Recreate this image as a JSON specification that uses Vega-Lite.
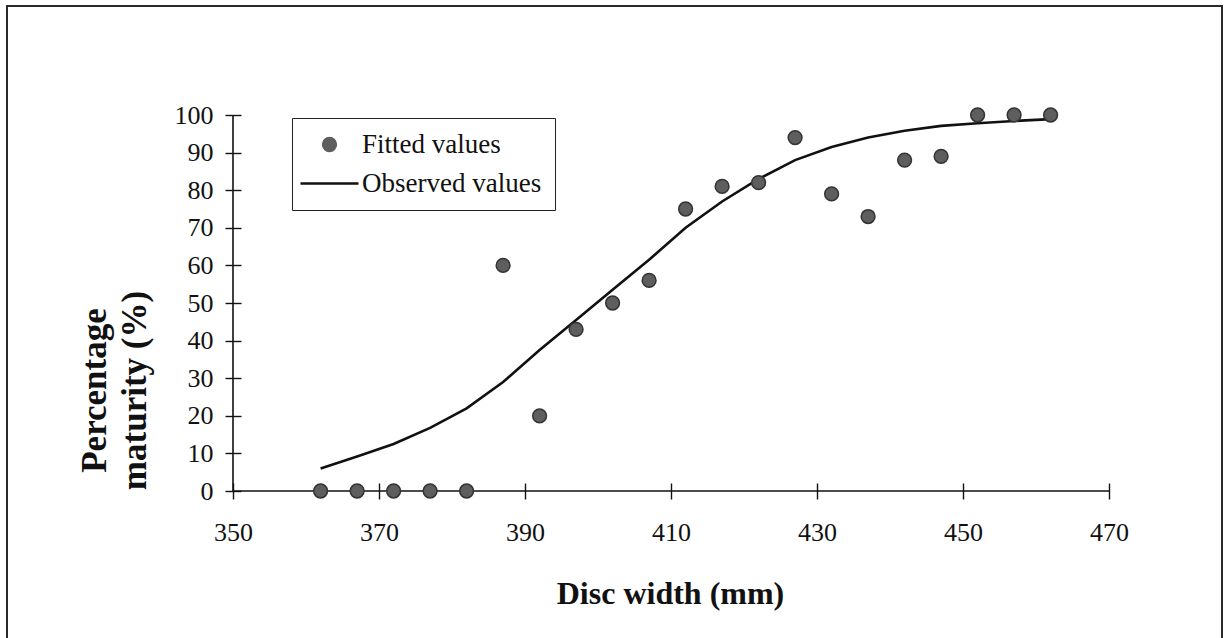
{
  "$schema": "https://vega.github.io/schema/vega-lite/v6.json",
  "width": 1215,
  "height": 640,
  "autosize": {"type": "none"},
  "padding": {"left": 7, "top": 6, "right": 6, "bottom": 0},
  "background": "white",
  "config": {
    "view": {"stroke": "#2a2a2a", "strokeWidth": 2},
    "font": "Liberation Serif"
  },
  "datasets": {
    "fitted": [
      {"width": 362, "pct": 0}, {"width": 367, "pct": 0}, {"width": 372, "pct": 0},
      {"width": 377, "pct": 0}, {"width": 382, "pct": 0}, {"width": 387, "pct": 60},
      {"width": 392, "pct": 20}, {"width": 397, "pct": 43}, {"width": 402, "pct": 50},
      {"width": 407, "pct": 56}, {"width": 412, "pct": 75}, {"width": 417, "pct": 81},
      {"width": 422, "pct": 82}, {"width": 427, "pct": 94}, {"width": 432, "pct": 79},
      {"width": 437, "pct": 73}, {"width": 442, "pct": 88}, {"width": 447, "pct": 89},
      {"width": 452, "pct": 100}, {"width": 457, "pct": 100}, {"width": 462, "pct": 100}
    ],
    "observed": [
      {"width": 362, "pct": 6.0}, {"width": 367, "pct": 9.2}, {"width": 372, "pct": 12.5},
      {"width": 377, "pct": 16.8}, {"width": 382, "pct": 22.0}, {"width": 387, "pct": 29.0},
      {"width": 392, "pct": 37.5}, {"width": 397, "pct": 45.5}, {"width": 402, "pct": 53.5},
      {"width": 407, "pct": 61.5}, {"width": 412, "pct": 70.0}, {"width": 417, "pct": 77.0},
      {"width": 422, "pct": 83.0}, {"width": 427, "pct": 88.0}, {"width": 432, "pct": 91.5},
      {"width": 437, "pct": 94.0}, {"width": 442, "pct": 95.8}, {"width": 447, "pct": 97.1},
      {"width": 452, "pct": 97.8}, {"width": 457, "pct": 98.4}, {"width": 462, "pct": 98.9}
    ]
  },
  "layer": [
    {
      "data": {"values": [{}]},
      "mark": {"type": "rule", "color": "#111", "strokeWidth": 1.6},
      "encoding": {
        "x": {"datum": 350, "type": "quantitative"},
        "y": {"datum": 0, "type": "quantitative"},
        "y2": {"datum": 100}
      }
    },
    {
      "data": {"values": [{}]},
      "mark": {"type": "rule", "color": "#111", "strokeWidth": 1.6},
      "encoding": {
        "x": {"datum": 350, "type": "quantitative"},
        "x2": {"datum": 470},
        "y": {"datum": 0, "type": "quantitative"}
      }
    },
    {
      "data": {"name": "observed"},
      "mark": {"type": "line", "strokeWidth": 2.6},
      "encoding": {
        "x": {
          "field": "width", "type": "quantitative",
          "scale": {"domain": [350, 470], "range": [226, 1102], "nice": false, "zero": false},
          "axis": {
            "title": "Disc width (mm)",
            "values": [350, 370, 390, 410, 430, 450, 470],
            "domain": false, "grid": false,
            "tickSize": 16, "tickColor": "#111", "tickWidth": 1.4,
            "offset": -163,
            "labelFont": "Liberation Serif", "labelFontSize": 26, "labelColor": "#111",
            "labelPadding": 20, "labelFlush": false, "labelOverlap": false, "labelBound": false,
            "titleFont": "Liberation Serif", "titleFontSize": 32, "titleFontWeight": "bold", "titleColor": "#111",
            "titleX": 663, "titleY": 120, "titleBaseline": "alphabetic", "titleAlign": "center"
          }
        },
        "y": {
          "field": "pct", "type": "quantitative",
          "scale": {"domain": [0, 100], "range": [485, 109], "nice": false, "zero": false},
          "axis": {
            "title": ["Percentage", "maturity (%)"],
            "values": [0, 10, 20, 30, 40, 50, 60, 70, 80, 90, 100],
            "domain": false, "grid": false,
            "tickSize": 16, "tickColor": "#111", "tickWidth": 1.4,
            "offset": -234,
            "labelFont": "Liberation Serif", "labelFontSize": 26, "labelColor": "#111",
            "labelPadding": 12, "labelFlush": false, "labelOverlap": false, "labelBound": false,
            "titleFont": "Liberation Serif", "titleFontSize": 35, "titleFontWeight": "bold", "titleColor": "#111",
            "titleAngle": -90, "titleX": -136, "titleY": 384, "titleBaseline": "alphabetic", "titleAlign": "center",
            "titleLineHeight": 40
          }
        },
        "color": {
          "datum": "Observed values",
          "type": "nominal",
          "scale": {"domain": ["Fitted values", "Observed values"], "range": ["#5e5e5e", "#111111"]},
          "legend": {
            "orient": "none", "legendX": 285, "legendY": 112,
            "title": null,
            "strokeColor": "#222", "fillColor": "white",
            "padding": 13, "rowPadding": 11,
            "labelFont": "Liberation Serif", "labelFontSize": 27, "labelColor": "#111",
            "labelLimit": 400,
            "labelOffset": 19, "symbolOffset": 11, "symbolSize": 3364,
            "encode": {
              "symbols": {
                "update": {
                  "shape": {"signal": "datum.value === 'Fitted values' ? 'circle' : 'stroke'"},
                  "size": {"signal": "datum.value === 'Fitted values' ? 190 : 3364"},
                  "fill": {"value": "#5e5e5e"},
                  "stroke": {"signal": "datum.value === 'Fitted values' ? '#333' : '#111'"},
                  "strokeWidth": {"signal": "datum.value === 'Fitted values' ? 1.5 : 2.6"},
                  "opacity": {"value": 1}
                }
              }
            }
          }
        }
      }
    },
    {
      "data": {"name": "fitted"},
      "mark": {"type": "point", "filled": true, "size": 190, "stroke": "#333", "strokeWidth": 1.5, "opacity": 1},
      "encoding": {
        "x": {"field": "width", "type": "quantitative"},
        "y": {"field": "pct", "type": "quantitative"},
        "color": {"datum": "Fitted values", "type": "nominal"}
      }
    }
  ]
}
